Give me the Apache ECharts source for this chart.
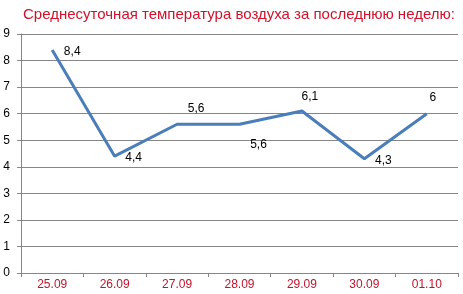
<!DOCTYPE html>
<html><head><meta charset="utf-8">
<script src="https://cdn.jsdelivr.net/npm/echarts@6/dist/echarts.min.js"></script>
<style>html,body{margin:0;padding:0;background:#fff}#c{width:463px;height:294px}</style>
</head><body><div id="c"></div>
<script>
const categories = ['25.09','26.09','27.09','28.09','29.09','30.09','01.10'];
const temps = [8.4, 4.4, 5.6, 5.6, 6.1, 4.3, 6];
const yTicks = [0,1,2,3,4,5,6,7,8,9];
const titleText = 'Среднесуточная температура воздуха за последнюю неделю:';

const labelOffsets = [[20,2],[19,2],[19,-16],[19,20],[8,-14],[19,2],[6,-16]];

const chart = echarts.init(document.getElementById('c'));
chart.setOption({
  animation:false,
  title:{text:titleText, left:18, top:2, textStyle:{color:'#d0112b', fontFamily:'Liberation Sans', fontSize:15, fontWeight:'normal'}},
  grid:{left:21, right:5, top:34, bottom:21},
  xAxis:{type:'category', data:categories, boundaryGap:true,
    axisLine:{lineStyle:{color:'#868686'}},
    axisTick:{show:true, length:4, lineStyle:{color:'#868686'}},
    axisLabel:{color:'#c0142c', fontFamily:'Liberation Sans', fontSize:12, margin:6}},
  yAxis:{type:'value', min:yTicks[0], max:yTicks[yTicks.length-1], interval:1,
    axisLine:{show:true, lineStyle:{color:'#868686'}},
    axisTick:{show:true, length:4, lineStyle:{color:'#868686'}},
    splitLine:{lineStyle:{color:'#868686'}},
    axisLabel:{color:'#000', fontFamily:'Liberation Sans', fontSize:12, margin:11, align:'right'}},
  series:[{type:'line', symbol:'circle', symbolSize:1, showSymbol:true,
    itemStyle:{color:'rgba(0,0,0,0)', borderWidth:0},
    lineStyle:{color:'#4a7ebb', width:3},
    labelLayout:{hideOverlap:false},
    data:temps.map((v,i)=>({value:v, label:{show:true,
      position:[labelOffsets[i][0]+0.5, labelOffsets[i][1]+0.5], align:'center', verticalAlign:'middle'}})),
    label:{show:true, color:'#000', fontFamily:'Liberation Sans', fontSize:12,
      formatter:p=>String(p.value).replace('.',',')}
  }]
});
</script></body></html>
